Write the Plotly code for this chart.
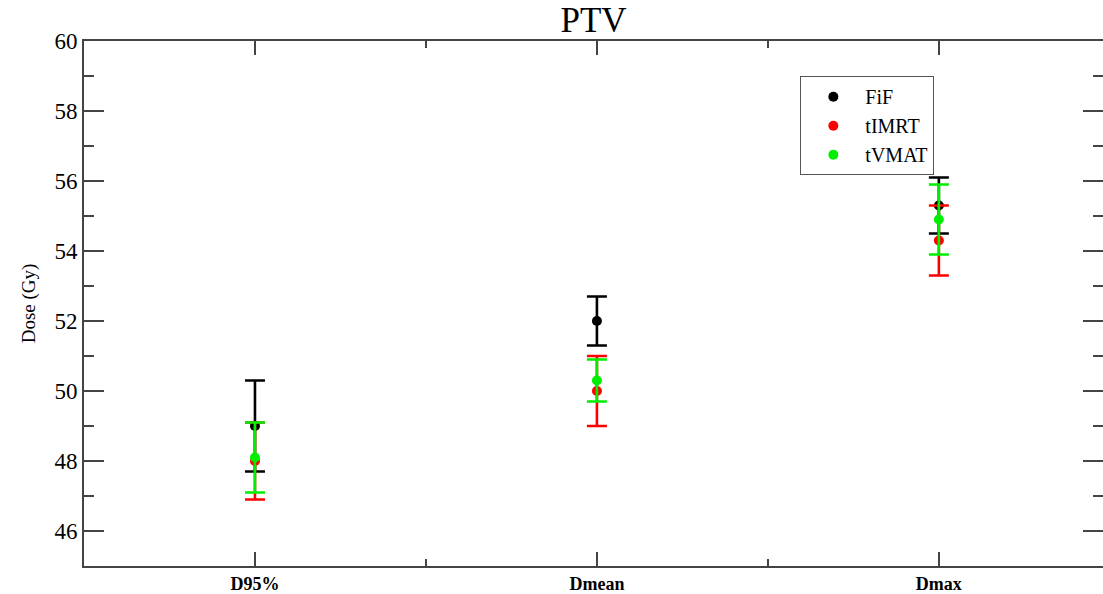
import plotly.graph_objects as go

categories = ["D95%", "Dmean", "Dmax"]
cat_pos = [1, 2, 3]

fif_mean = [49.0, 52.0, 55.3]
fif_err = [1.3, 0.7, 0.8]
timrt_mean = [48.0, 50.0, 54.3]
timrt_err = [1.1, 1.0, 1.0]
tvmat_mean = [48.1, 50.3, 54.9]
tvmat_err = [1.0, 0.6, 1.0]

series = [
    ("FiF", fif_mean, fif_err, "#000000"),
    ("tIMRT", timrt_mean, timrt_err, "#ff0000"),
    ("tVMAT", tvmat_mean, tvmat_err, "#00ee00"),
]

FONT = "Liberation Serif, Times New Roman, serif"
AX = "#444444"

fig = go.Figure()
for name, m, e, c in series:
    fig.add_trace(go.Scatter(
        x=cat_pos, y=m, name=name, mode="markers",
        marker=dict(color=c, size=10),
        error_y=dict(type="data", array=e, visible=True, color=c,
                     thickness=2.6, width=10),
    ))

fig.update_layout(
    width=1103, height=594,
    margin=dict(l=84, r=0, t=41, b=28),
    paper_bgcolor="white", plot_bgcolor="white",
    title=dict(text="PTV", x=(84 + 1103) / 2 / 1103, xanchor="center",
               y=1 - 20 / 594, yanchor="middle",
               font=dict(family=FONT, size=35, color="black")),
    showlegend=True,
    legend=dict(x=0.703, y=0.933, xanchor="left", yanchor="top",
                bordercolor="#555555", borderwidth=1, bgcolor="white",
                font=dict(family=FONT, size=20, color="black"),
                tracegroupgap=0, itemwidth=54),
    font=dict(family=FONT, color="black"),
)

fig.update_xaxes(
    range=[0.5, 3.48], tickvals=cat_pos, ticktext=categories,
    showgrid=False, zeroline=False, showline=True, linecolor=AX, linewidth=2,
    mirror="ticks", ticks="inside", ticklen=14, tickwidth=2, tickcolor=AX,
    tickfont=dict(family=FONT, size=18, color="black", weight="bold"),
    minor=dict(tickvals=[1.5, 2.5], ticks="inside", ticklen=7, tickwidth=2,
               tickcolor=AX, showgrid=False),
)
fig.update_yaxes(
    range=[45, 60], dtick=2, tick0=46,
    showgrid=False, zeroline=False, showline=True, linecolor=AX, linewidth=2,
    mirror=False, ticks="inside", ticklen=20, tickwidth=2, tickcolor=AX,
    tickfont=dict(family=FONT, size=23, color="black"),
    minor=dict(dtick=1, tick0=45, ticks="inside", ticklen=10, tickwidth=2,
               tickcolor=AX, showgrid=False),
    title=dict(text="Dose (Gy)", font=dict(family=FONT, size=19, color="black"),
               standoff=14),
)
fig.update_layout(yaxis2=dict(
    overlaying="y", side="right", matches="y", anchor="x",
    showline=False, showgrid=False, zeroline=False, showticklabels=False,
    ticks="inside", ticklen=20, tickwidth=2, tickcolor=AX, dtick=2, tick0=46,
    minor=dict(dtick=1, tick0=45, ticks="inside", ticklen=10, tickwidth=2,
               tickcolor=AX, showgrid=False),
))
fig.add_trace(go.Scatter(x=[None], y=[None], yaxis="y2", showlegend=False,
                         hoverinfo="skip"))

fig.write_html("out.html")
